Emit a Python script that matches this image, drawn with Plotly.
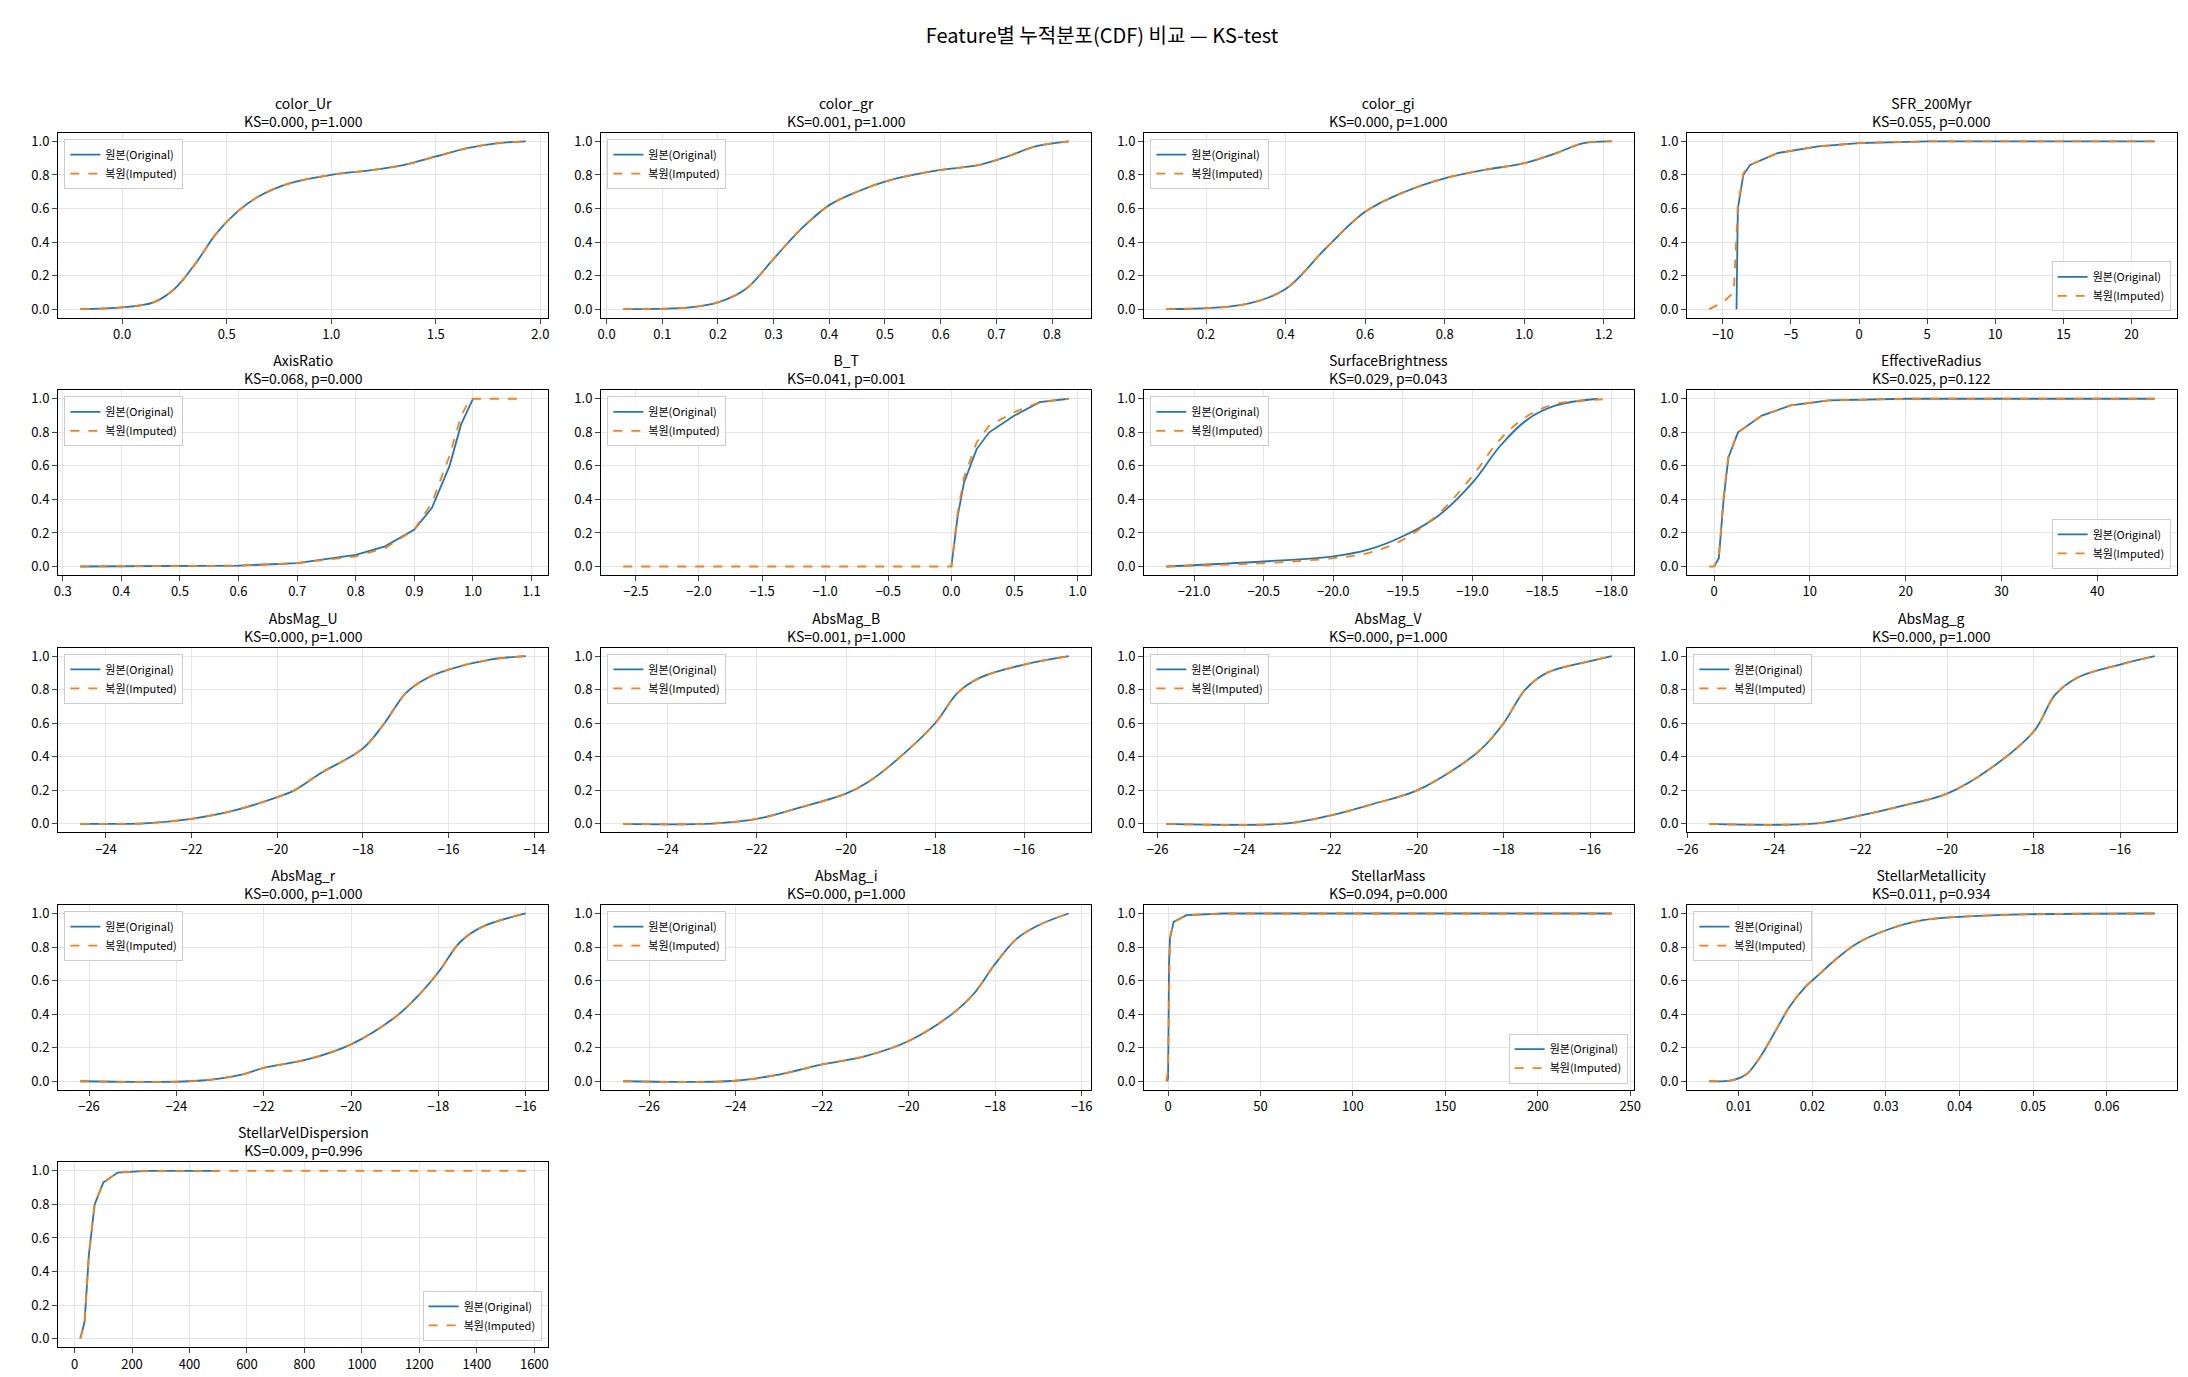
import plotly.graph_objects as go
from plotly.subplots import make_subplots

# CDF knots: (x values, cdf values)
features = {
    "color_Ur": ([-0.2, 0.0, 0.15, 0.25, 0.35, 0.45, 0.55, 0.65, 0.8, 1.0, 1.2, 1.35, 1.5, 1.65, 1.8, 1.93],
                 [0, 0.01, 0.04, 0.12, 0.27, 0.45, 0.58, 0.67, 0.75, 0.8, 0.83, 0.86, 0.91, 0.96, 0.99, 1.0]),
    "color_gr": ([0.03, 0.15, 0.2, 0.25, 0.3, 0.35, 0.4, 0.45, 0.5, 0.55, 0.6, 0.67, 0.72, 0.77, 0.83],
                 [0, 0.01, 0.04, 0.12, 0.3, 0.48, 0.62, 0.7, 0.76, 0.8, 0.83, 0.86, 0.91, 0.97, 1.0]),
    "color_gi": ([0.1, 0.3, 0.4, 0.5, 0.6, 0.7, 0.8, 0.9, 1.0, 1.08, 1.15, 1.22],
                 [0, 0.03, 0.12, 0.36, 0.58, 0.7, 0.78, 0.83, 0.87, 0.93, 0.99, 1.0]),
    "SFR_200Myr": ([-9, -8.9, -8.5, -8, -6, -3, 0, 5, 21.7],
                   [0, 0.6, 0.8, 0.86, 0.93, 0.97, 0.99, 1.0, 1.0]),
    "AxisRatio": ([0.33, 0.6, 0.7, 0.8, 0.85, 0.9, 0.93, 0.96, 0.98, 1.0],
                  [0, 0.005, 0.02, 0.07, 0.12, 0.22, 0.35, 0.6, 0.85, 1.0]),
    "B_T": ([0, 0.05, 0.1, 0.2, 0.3, 0.5, 0.7, 0.93],
            [0, 0.3, 0.5, 0.7, 0.8, 0.9, 0.98, 1.0]),
    "SurfaceBrightness": ([-21.2, -20.5, -20, -19.75, -19.5, -19.25, -19, -18.8, -18.6, -18.4, -18.1],
                          [0, 0.03, 0.06, 0.1, 0.18, 0.3, 0.5, 0.72, 0.88, 0.96, 1.0]),
    "EffectiveRadius": ([0, 0.5, 1, 1.5, 2.5, 5, 8, 12, 20, 46],
                        [0, 0.05, 0.4, 0.65, 0.8, 0.9, 0.96, 0.99, 1.0, 1.0]),
    "AbsMag_U": ([-24.6, -23, -22, -21, -20, -19.6, -19, -18, -17.5, -17, -16.5, -16, -15, -14.2],
                 [0, 0.005, 0.03, 0.08, 0.16, 0.2, 0.3, 0.45, 0.6, 0.78, 0.87, 0.92, 0.98, 1.0]),
    "AbsMag_B": ([-25, -23, -22, -21, -20, -19.5, -19, -18, -17.5, -17, -16, -15],
                 [0, 0.002, 0.03, 0.1, 0.18, 0.25, 0.35, 0.6, 0.78, 0.87, 0.95, 1.0]),
    "AbsMag_V": ([-25.8, -23, -22, -21, -20, -19, -18.5, -18, -17.5, -17, -16, -15.5],
                 [0, 0.003, 0.05, 0.12, 0.2, 0.35, 0.45, 0.6, 0.8, 0.9, 0.97, 1.0]),
    "AbsMag_g": ([-25.5, -23, -22, -21, -20, -19, -18, -17.5, -17, -16, -15.2],
                 [0, 0.003, 0.05, 0.11, 0.18, 0.33, 0.55, 0.77, 0.87, 0.95, 1.0]),
    "AbsMag_r": ([-26.2, -23.5, -22.5, -22, -21, -20, -19, -18.5, -18, -17.5, -17, -16],
                 [0, 0.003, 0.04, 0.08, 0.13, 0.22, 0.38, 0.5, 0.65, 0.83, 0.92, 1.0]),
    "AbsMag_i": ([-26.6, -24, -23, -22, -21, -20, -19, -18.5, -18, -17.5, -17, -16.3],
                 [0, 0.003, 0.04, 0.1, 0.15, 0.24, 0.4, 0.52, 0.7, 0.85, 0.93, 1.0]),
    "StellarMass": ([-0.5, 0, 0.5, 1, 3, 10, 30, 240],
                    [0, 0.02, 0.7, 0.85, 0.95, 0.99, 1.0, 1.0]),
    "StellarMetallicity": ([0.006, 0.009, 0.011, 0.013, 0.015, 0.017, 0.019, 0.021, 0.023, 0.026, 0.03, 0.035, 0.045, 0.0665],
                           [0, 0.005, 0.04, 0.15, 0.3, 0.45, 0.56, 0.64, 0.72, 0.82, 0.9, 0.96, 0.99, 1.0]),
    "StellarVelDispersion": ([20, 35, 50, 70, 100, 150, 250, 500],
                             [0, 0.1, 0.5, 0.8, 0.93, 0.99, 1.0, 1.0]),
}

# Imputed CDFs where they visibly differ from the original
imputed = {
    "SFR_200Myr": ([-11, -10, -9.2, -8.9, -8.5, -8, -6, -3, 0, 5, 21.7],
                   [0, 0.04, 0.1, 0.62, 0.81, 0.86, 0.93, 0.97, 0.99, 1.0, 1.0]),
    "AxisRatio": ([0.33, 0.6, 0.7, 0.8, 0.85, 0.9, 0.93, 0.96, 0.98, 0.995, 1.09],
                  [0, 0.005, 0.02, 0.06, 0.11, 0.22, 0.38, 0.66, 0.9, 1.0, 1.0]),
    "B_T": ([-2.6, 0, 0.05, 0.1, 0.2, 0.3, 0.5, 0.7, 0.93],
            [0, 0, 0.32, 0.53, 0.74, 0.84, 0.92, 0.98, 1.0]),
    "SurfaceBrightness": ([-21.2, -20.5, -20, -19.75, -19.5, -19.25, -19, -18.8, -18.6, -18.4, -18.1, -18.0],
                          [0, 0.02, 0.05, 0.08, 0.16, 0.31, 0.54, 0.76, 0.9, 0.97, 0.995, 1.0]),
    "EffectiveRadius": ([-0.5, 0, 0.5, 1, 1.5, 2.5, 5, 8, 12, 20, 46],
                        [0, 0, 0.06, 0.42, 0.66, 0.8, 0.9, 0.96, 0.99, 1.0, 1.0]),
    "StellarMass": ([-1, -0.2, 0, 0.5, 1, 3, 10, 30, 240],
                    [0, 0.05, 0.1, 0.72, 0.86, 0.95, 0.99, 1.0, 1.0]),
    "StellarVelDispersion": ([20, 35, 50, 70, 100, 150, 250, 500, 1570],
                             [0, 0.1, 0.5, 0.8, 0.93, 0.99, 1.0, 1.0, 1.0]),
}

ks_results = {
    "color_Ur": (0.000, 1.000), "color_gr": (0.001, 1.000), "color_gi": (0.000, 1.000),
    "SFR_200Myr": (0.055, 0.000), "AxisRatio": (0.068, 0.000), "B_T": (0.041, 0.001),
    "SurfaceBrightness": (0.029, 0.043), "EffectiveRadius": (0.025, 0.122),
    "AbsMag_U": (0.000, 1.000), "AbsMag_B": (0.001, 1.000), "AbsMag_V": (0.000, 1.000),
    "AbsMag_g": (0.000, 1.000), "AbsMag_r": (0.000, 1.000), "AbsMag_i": (0.000, 1.000),
    "StellarMass": (0.094, 0.000), "StellarMetallicity": (0.011, 0.934),
    "StellarVelDispersion": (0.009, 0.996),
}
lower_right = ["SFR_200Myr", "EffectiveRadius", "StellarMass", "StellarVelDispersion"]
steep = ["SFR_200Myr", "StellarMass", "EffectiveRadius", "StellarVelDispersion", "B_T", "AxisRatio"]

# x tick spacing and format per feature, as in the reference
x_ticks = {
    "color_Ur": (0.5, ".1f"), "color_gr": (0.1, ".1f"), "color_gi": (0.2, ".1f"),
    "SFR_200Myr": (5, "d"), "AxisRatio": (0.1, ".1f"), "B_T": (0.5, ".1f"),
    "SurfaceBrightness": (0.5, ".1f"), "EffectiveRadius": (10, "d"),
    "AbsMag_U": (2, "d"), "AbsMag_B": (2, "d"), "AbsMag_V": (2, "d"), "AbsMag_g": (2, "d"),
    "AbsMag_r": (2, "d"), "AbsMag_i": (2, "d"), "StellarMass": (50, "d"),
    "StellarMetallicity": (0.01, ".2f"), "StellarVelDispersion": (200, "d"),
}

names = list(features.keys())
titles = [f"{n}<br>KS={ks_results[n][0]:.3f}, p={ks_results[n][1]:.3f}" for n in names]

fig = make_subplots(rows=5, cols=4, subplot_titles=titles,
                    horizontal_spacing=0.025, vertical_spacing=0.06)

for i, name in enumerate(names):
    row, col = i // 4 + 1, i % 4 + 1
    leg = "legend" if i == 0 else f"legend{i + 1}"
    x_orig, y_orig = features[name]
    x_imp, y_imp = imputed.get(name, features[name])
    shape = "linear" if name in steep else "spline"
    fig.add_trace(go.Scatter(x=x_orig, y=y_orig, mode="lines", name="원본(Original)", line_shape=shape,
                             line=dict(color="#1f77b4", width=1.8), legend=leg), row=row, col=col)
    fig.add_trace(go.Scatter(x=x_imp, y=y_imp, mode="lines", name="복원(Imputed)", line_shape=shape,
                             line=dict(color="#ff7f0e", width=1.8, dash="dash"), legend=leg), row=row, col=col)

    # matplotlib-like 5% margin on x
    lo, hi = min(x_orig + x_imp), max(x_orig + x_imp)
    pad = (hi - lo) * 0.05
    dt, fmt = x_ticks[name]
    fig.update_xaxes(range=[lo - pad, hi + pad], dtick=dt, tickformat=fmt, row=row, col=col)

    # place each subplot's legend inside its axes
    xa = fig.layout["xaxis" if i == 0 else f"xaxis{i + 1}"].domain
    ya = fig.layout["yaxis" if i == 0 else f"yaxis{i + 1}"].domain
    if name in lower_right:
        pos = dict(x=xa[1] - 0.003, y=ya[0] + 0.005, xanchor="right", yanchor="bottom")
    else:
        pos = dict(x=xa[0] + 0.003, y=ya[1] - 0.005, xanchor="left", yanchor="top")
    fig.update_layout({leg: dict(**pos, bgcolor="rgba(255,255,255,0.8)", bordercolor="#cccccc",
                                 borderwidth=1, font=dict(size=11))})

fig.update_xaxes(showline=True, linecolor="black", mirror=True, ticks="outside",
                 gridcolor="#e5e5e5", zeroline=False)
fig.update_yaxes(showline=True, linecolor="black", mirror=True, ticks="outside",
                 gridcolor="#e5e5e5", zeroline=False, range=[-0.05, 1.05], dtick=0.2, tickformat=".1f")
fig.update_annotations(font=dict(size=14))

fig.update_layout(
    title=dict(text="Feature별 누적분포(CDF) 비교 — KS-test", x=0.5, y=0.985, font=dict(size=20)),
    width=2188, height=1377, template="plotly_white",
    font=dict(family="Noto Sans CJK KR", size=13, color="black"),
    margin=dict(l=50, r=18, t=125, b=35),
)
fig.write_html("out.html")
